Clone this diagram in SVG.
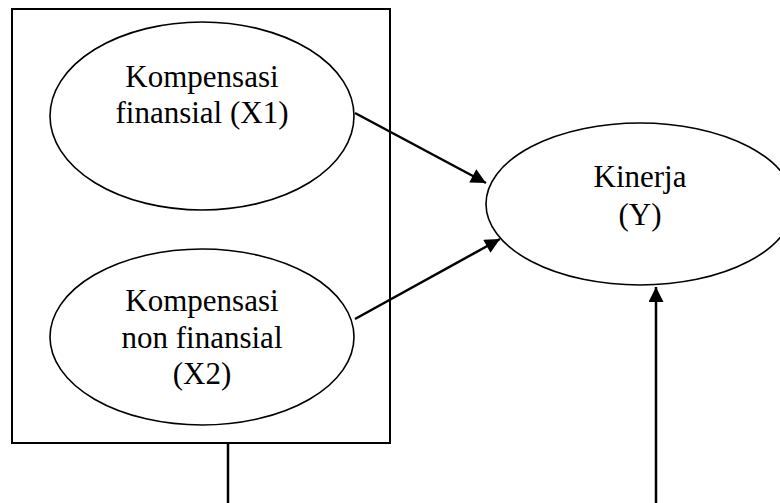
<svg xmlns="http://www.w3.org/2000/svg" width="780" height="503" viewBox="0 0 780 503">
<style>
.box{fill:none;stroke:#000;stroke-width:2}
.node{fill:#fff;stroke:#000;stroke-width:1.6}
.t{font-family:"Liberation Serif","Times New Roman",serif;font-size:31px;fill:#000;text-anchor:middle}
.c{fill:none;stroke:#000;stroke-width:2.5}
</style>
<defs>
<marker id="ah" viewBox="0 0 10 10" refX="10" refY="5" markerWidth="6.5" markerHeight="6" orient="auto" markerUnits="strokeWidth">
<path d="M0,0L10,5L0,10z" fill="#000"/>
</marker>
</defs>
<g id="frame"><rect class="box" x="12" y="9" width="378" height="434"/></g>
<g id="x1">
<ellipse class="node" cx="202" cy="116" rx="152" ry="94"/>
<text class="t" x="202" y="87">Kompensasi</text>
<text class="t" x="202" y="123">finansial (X1)</text>
</g>
<g id="x2">
<ellipse class="node" cx="202" cy="337" rx="152" ry="88"/>
<text class="t" x="202" y="311">Kompensasi</text>
<text class="t" x="202" y="348">non finansial</text>
<text class="t" x="202" y="384">(X2)</text>
</g>
<g id="y">
<ellipse class="node" cx="640" cy="204" rx="154" ry="81"/>
<text class="t" x="640" y="187">Kinerja</text>
<text class="t" x="640" y="225">(Y)</text>
</g>
<g id="connectors">
<line class="c" x1="355" y1="113" x2="486" y2="183" marker-end="url(#ah)"/>
<line class="c" x1="355" y1="319" x2="500" y2="239" marker-end="url(#ah)"/>
<line class="c" x1="656" y1="503" x2="656" y2="287" marker-end="url(#ah)"/>
<line class="c" x1="228" y1="443" x2="228" y2="503"/>
</g>
</svg>
